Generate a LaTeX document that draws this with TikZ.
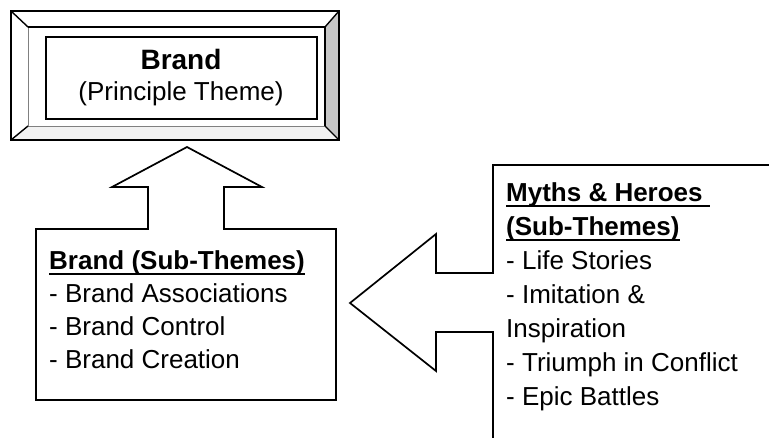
\documentclass[tikz,border=0pt]{standalone}
\usepackage{fontspec}
\setmainfont{Liberation Sans}
% heavy underline set close under the baseline
\newcommand\heavyul[1]{\setbox0\hbox{#1}\rlap{\rule[-5.5pt]{\wd0}{2pt}}\box0}
\begin{document}
\begin{tikzpicture}[x=1pt,y=-1pt,
  outline/.style={draw=black,line width=1.7pt,line join=miter},
  body/.style={font=\fontsize{26}{33}\selectfont,inner sep=0pt,anchor=base west},
  head/.style={font=\fontsize{26}{33}\selectfont\bfseries,inner sep=0pt,anchor=base west},
  title/.style={font=\fontsize{28}{33}\selectfont\bfseries,inner sep=0pt,anchor=base},
  subtitle/.style={font=\fontsize{26}{33}\selectfont,inner sep=0pt,anchor=base}]
\useasboundingbox (0,0) rectangle (769,437);
\clip (0,0) rectangle (769,437);

% ---- bevelled frame of the main theme ----
\coordinate (oTL) at (11,11);   \coordinate (oTR) at (339,11);
\coordinate (oBR) at (339,140); \coordinate (oBL) at (11,140);
\coordinate (iTL) at (28,27);   \coordinate (iTR) at (325,27);
\coordinate (iBR) at (325,126); \coordinate (iBL) at (28,126);
\fill[white] (oTL) -- (oTR) -- (iTR) -- (iTL) -- cycle;
\fill[white] (oTL) -- (iTL) -- (iBL) -- (oBL) -- cycle;
\fill[gray!10] (oBL) -- (iBL) -- (iBR) -- (oBR) -- cycle;
\fill[gray!45] (oTR) -- (oBR) -- (iBR) -- (iTR) -- cycle;
\draw[line width=0.8pt,gray] (iTL) -- (iBL) -- (iBR);
\draw[line width=1.6pt] (iTL) -- (iTR) -- (iBR);
\draw[line width=1.4pt] (oTL) -- (iTL) (oTR) -- (iTR) (oBR) -- (iBR) (oBL) -- (iBL);
\draw[outline] (oTL) rectangle (oBR);
\draw[outline] (46,37) rectangle (317,119);
\node[title] (brand) at (181,69) {Brand};
\node[subtitle] (principle) at (181,100) {(Principle Theme)};

% ---- brand sub-themes box with upward arrow ----
\draw[outline] (36,229) -- (148,229) -- (148,187) -- (112,187) -- (187,147)
  -- (262,187) -- (224,187) -- (224,229) -- (336,229) -- (336,400)
  -- (36,400) -- cycle;
\node[head] (bsub) at (49,269) {\heavyul{Brand (Sub-Themes)}};
\node[body] (bassoc) at (49,302) {- Brand Associations};
\node[body] (bcontrol) at (49,335) {- Brand Control};
\node[body] (bcreate) at (49,368) {- Brand Creation};

% ---- myths & heroes box with leftward arrow ----
\draw[outline] (772,165) -- (493,165) -- (493,273) -- (436,273) -- (436,234)
  -- (350,303) -- (436,371) -- (436,332) -- (493,332) -- (493,440);
\node[head] (myths) at (506,201) {\heavyul{Myths \& Heroes }};
\node[head] (msub) at (506,235) {\heavyul{(Sub-Themes)}};
\node[body] (life) at (506,269) {- Life Stories};
\node[body] (imit) at (506,303) {- Imitation \&};
\node[body] (insp) at (506,337) {Inspiration};
\node[body] (triumph) at (506,371) {- Triumph in Conflict};
\node[body] (epic) at (506,405) {- Epic Battles};
\end{tikzpicture}
\end{document}
